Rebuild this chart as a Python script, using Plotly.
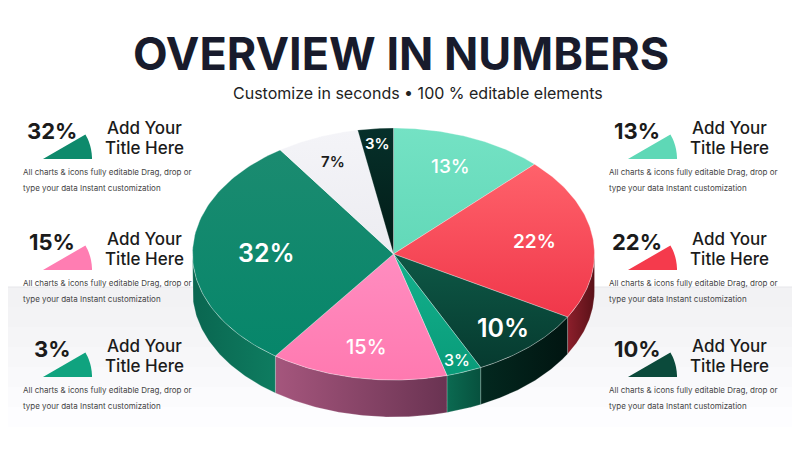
import numpy as np
import plotly.graph_objects as go

# chart data
values = [13, 22, 10, 3, 15, 32, 7, 3]
slice_labels = [f"{v}%" for v in values]

left_pcts = [32, 15, 3]
right_pcts = [13, 22, 10]
panel_line1 = "Add Your"
panel_line2 = "Title Here"
panel_desc1 = "All charts & icons fully editable Drag, drop or"
panel_desc2 = "type your data Instant customization"

title_text = "OVERVIEW IN NUMBERS"
subtitle_text = "Customize in seconds \u2022 100 % editable elements"

# styles (top colour first, bottom colour second)
top_colors = [("#74E2C4", "#62D8B8"), ("#FF626B", "#F0374A"), ("#0E5846", "#063A2F"),
              ("#14B18D", "#099B79"), ("#FF8DC0", "#FF79B0"), ("#1B8B70", "#06866A"),
              ("#F4F4F8", "#ECECF1"), ("#06302A", "#021B16")]
side_colors = [("#4FB89B", "#3FA286"), ("#8C1F2B", "#5A1118"), ("#03281F", "#011511"),
               ("#0B6A51", "#07513E"), ("#A5567D", "#6A3352"), ("#0A6650", "#0E7C60"),
               ("#C9C9CF", "#BDBDC4"), ("#021A15", "#01120E")]
text_colors = ["white", "white", "white", "white", "white", "white", "#1b1b1b", "white"]
text_sizes = [19, 19, 25, 16, 20, 25, 15, 15]
text_weights = [500, 600, 600, 500, 500, 600, 600, 600]
label_radius = [0.75, 0.71, 0.8, 0.9, 0.75, 0.63, 0.79, 0.88]
icon_colors = {32: "#0E8A6C", 15: "#FF7DB2", 3: "#10A37F", 13: "#5ED8B6", 22: "#F53A4C", 10: "#0B4A3B"}

cx, cy, rx, ry, depth = 393.5, 254, 201, 126, 37
page_offset = 8  # default body margin of the html page

fig = go.Figure()

# background band
band = np.linspace(0, 1, 8)
for i in range(len(band) - 1):
    g = int(242 + (255 - 242) * band[i])
    fig.add_shape(type="rect", x0=-10, x1=820, y0=287 + i * 20, y1=287 + (i + 1) * 20,
                  fillcolor=f"rgb({g},{g},{min(g + 2, 255)})", line_width=0, layer="below")
fig.add_shape(type="line", x0=-10, x1=820, y0=287, y1=287, line=dict(color="#E6E6EA", width=1), layer="below")

total = sum(values)
cum = np.concatenate([[0], np.cumsum(values)]) / total * 2 * np.pi


def arc(a0, a1, dy=0.0, n=80):
    t = np.linspace(a0, a1, n)
    return cx + rx * np.sin(t), cy - ry * np.cos(t) + dy


# side faces (front half only)
for i in range(len(values)):
    s0, s1 = max(cum[i], np.pi / 2), min(cum[i + 1], 3 * np.pi / 2)
    if s0 >= s1:
        continue
    xt, yt = arc(s0, s1)
    xb, yb = arc(s1, s0, depth)
    fig.add_trace(go.Scatter(
        x=np.concatenate([xt, xb, xt[:1]]), y=np.concatenate([yt, yb, yt[:1]]),
        mode="lines", fill="toself", line=dict(width=0.6, color="rgba(255,255,255,0.35)"),
        fillgradient=dict(type="horizontal", colorscale=[[0, side_colors[i][0]], [1, side_colors[i][1]]]),
        hoverinfo="skip", showlegend=False))

# top faces
for i in range(len(values)):
    xa, ya = arc(cum[i], cum[i + 1])
    fig.add_trace(go.Scatter(
        x=np.concatenate([[cx], xa, [cx]]), y=np.concatenate([[cy], ya, [cy]]),
        mode="lines", fill="toself", line=dict(width=0.6, color="rgba(255,255,255,0.5)"),
        fillgradient=dict(type="vertical", colorscale=[[0, top_colors[i][1]], [1, top_colors[i][0]]]),
        hoverinfo="text", text=slice_labels[i], showlegend=False))

# slice labels
for i in range(len(values)):
    mid = (cum[i] + cum[i + 1]) / 2
    k = label_radius[i]
    fig.add_annotation(x=cx + rx * k * np.sin(mid), y=cy - ry * k * np.cos(mid),
                       text=slice_labels[i], showarrow=False,
                       font=dict(family="Inter", size=text_sizes[i], color=text_colors[i],
                                 weight=text_weights[i]))

# title
fig.add_annotation(x=401, y=53, text=title_text, showarrow=False,
                   font=dict(family="Inter", size=45, color="#181B2C", weight=700))
fig.add_annotation(x=418, y=93, text=subtitle_text, showarrow=False,
                   font=dict(family="Inter", size=16, color="#222222"))


def panel(pct, px, tx, dx, y):
    fig.add_annotation(x=px, y=y, text=f"{pct}%", showarrow=False,
                       font=dict(family="Inter", size=22, color="#1b1b1b", weight=700))
    fig.add_annotation(x=tx, y=y - 3, text=panel_line1, showarrow=False,
                       font=dict(family="Inter", size=17, color="#1b1b1b", weight=500))
    fig.add_annotation(x=tx, y=y + 17, text=panel_line2, showarrow=False,
                       font=dict(family="Inter", size=17, color="#1b1b1b", weight=500))
    for j, line in enumerate([panel_desc1, panel_desc2]):
        fig.add_annotation(x=dx, y=y + 41 + j * 15.5, text=line, showarrow=False, xanchor="left",
                           font=dict(family="Inter", size=8, color="#444444"))
    # small wedge icon
    ax, ay, r = px - 9, y + 28, 49
    t = np.linspace(0, np.radians(30), 20)
    pts = [(ax, ay)] + [(ax + r * np.cos(a), ay - r * np.sin(a)) for a in t]
    path = "M " + " L ".join(f"{p[0]:.1f},{p[1]:.1f}" for p in pts) + " Z"
    fig.add_shape(type="path", path=path, fillcolor=icon_colors[pct], line_width=0, layer="below")


rows_y = [131, 242, 349]
for pct, y in zip(left_pcts, rows_y):
    panel(pct, 52, 144, 21, y)
for pct, y in zip(right_pcts, rows_y):
    panel(pct, 637, 729, 607, y)

fig.update_layout(
    width=800, height=450, autosize=False,
    margin=dict(l=0, r=0, t=0, b=0),
    paper_bgcolor="white", plot_bgcolor="rgba(0,0,0,0)",
    xaxis=dict(range=[page_offset, 800 + page_offset], visible=False, fixedrange=True),
    yaxis=dict(range=[450 + page_offset, page_offset], visible=False, fixedrange=True),
    showlegend=False,
)

fig.write_html("out.html")
